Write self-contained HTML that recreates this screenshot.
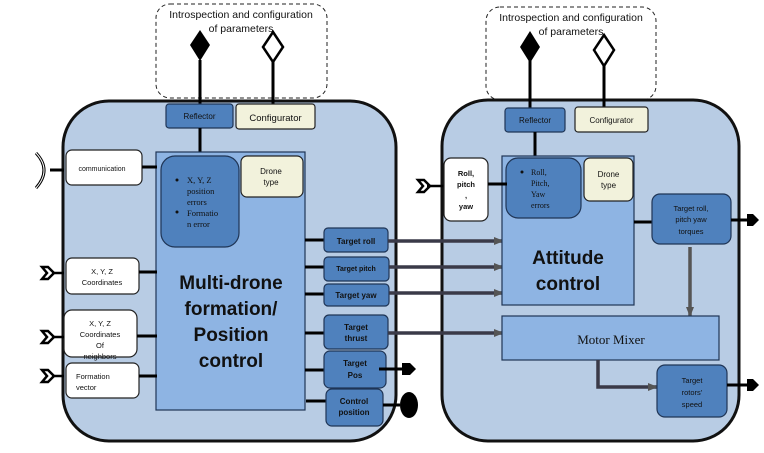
<!DOCTYPE html>
<html><head><meta charset="utf-8"><style>
html,body{margin:0;padding:0;background:#fff;}
svg{display:block;}
text{font-family:"Liberation Sans",sans-serif;fill:#111;}
.serif{font-family:"Liberation Serif",serif;}
</style></head><body>
<svg width="764" height="453" viewBox="0 0 764 453" xmlns="http://www.w3.org/2000/svg">
<defs>
<marker id="ah" markerWidth="10" markerHeight="10" refX="9" refY="5" orient="auto" markerUnits="userSpaceOnUse">
<path d="M0,1 L10,5 L0,9 z" fill="#555"/></marker>
</defs>
<rect x="156" y="4" width="171" height="94" rx="14" fill="none" stroke="#222" stroke-dasharray="4,3"/>
<rect x="486" y="7" width="170" height="93" rx="14" fill="none" stroke="#222" stroke-dasharray="4,3"/>
<text x="241" y="18" font-size="10.5" text-anchor="middle">Introspection and configuration</text>
<text x="241" y="32" font-size="10.5" text-anchor="middle">of parameters</text>
<text x="571" y="21" font-size="10.5" text-anchor="middle">Introspection and configuration</text>
<text x="571" y="35" font-size="10.5" text-anchor="middle">of parameters</text>

<rect x="63" y="101" width="333" height="340" rx="46" fill="#b8cce4" stroke="#111" stroke-width="3"/>
<rect x="442" y="100" width="297" height="341" rx="46" fill="#b8cce4" stroke="#111" stroke-width="3"/>

<line x1="200" y1="60" x2="200" y2="104" stroke="#000" stroke-width="3"/>
<line x1="273" y1="62" x2="273" y2="104" stroke="#000" stroke-width="3"/>
<path d="M200,30 L210,45 L200,61 L190,45 z" fill="#000"/>
<path d="M273,32 L283,47 L273,62 L263,47 z" fill="#fff" stroke="#000" stroke-width="2.5"/>
<line x1="530" y1="60" x2="530" y2="108" stroke="#000" stroke-width="3"/>
<line x1="604" y1="64" x2="604" y2="107" stroke="#000" stroke-width="3"/>
<path d="M530,31 L540,47 L530,63 L520,47 z" fill="#000"/>
<path d="M604,35 L614,50 L604,66 L594,50 z" fill="#fff" stroke="#000" stroke-width="2.5"/>

<rect x="166" y="104" width="67" height="24" rx="3" fill="#4f81bd" stroke="#1f3556" stroke-width="1.2"/>
<text x="199.5" y="119" font-size="8" text-anchor="middle">Reflector</text>
<rect x="236" y="104" width="79" height="25" rx="3" fill="#f2f2dc" stroke="#222" stroke-width="1.2"/>
<text x="275.5" y="121" font-size="9.5" text-anchor="middle">Configurator</text>
<line x1="200" y1="128" x2="200" y2="153" stroke="#000" stroke-width="3"/>

<rect x="156" y="152" width="149" height="258" fill="#8eb4e3" stroke="#1f3556" stroke-width="1.2"/>
<rect x="161" y="156" width="78" height="91" rx="14" fill="#4f81bd" stroke="#1f3556" stroke-width="1.2"/>
<circle cx="177" cy="180" r="1.5" fill="#111"/>
<text x="187" y="183" font-size="8.5" class="serif">X, Y, Z</text>
<text x="187" y="194" font-size="8.5" class="serif">position</text>
<text x="187" y="205" font-size="8.5" class="serif">errors</text>
<circle cx="177" cy="212" r="1.5" fill="#111"/>
<text x="187" y="216" font-size="8.5" class="serif">Formatio</text>
<text x="187" y="227" font-size="8.5" class="serif">n error</text>
<rect x="241" y="156" width="62" height="41" rx="6" fill="#f2f2dc" stroke="#222" stroke-width="1.2"/>
<text x="271" y="174" font-size="8" text-anchor="middle">Drone</text>
<text x="271" y="185" font-size="8" text-anchor="middle">type</text>
<g font-size="19" font-weight="bold" text-anchor="middle">
<text x="231" y="289">Multi-drone</text>
<text x="231" y="315">formation/</text>
<text x="231" y="341">Position</text>
<text x="231" y="367">control</text>
</g>

<rect x="66" y="150" width="76" height="35" rx="6" fill="#fff" stroke="#222" stroke-width="1.2"/>
<text x="102" y="171" font-size="7" text-anchor="middle">communication</text>
<line x1="142" y1="167" x2="157" y2="167" stroke="#000" stroke-width="3"/>
<rect x="66" y="258" width="73" height="36" rx="6" fill="#fff" stroke="#222" stroke-width="1.2"/>
<text x="102" y="274" font-size="7.5" text-anchor="middle">X, Y, Z</text>
<text x="102" y="285" font-size="7.5" text-anchor="middle">Coordinates</text>
<line x1="139" y1="272" x2="157" y2="272" stroke="#000" stroke-width="3"/>
<rect x="64" y="310" width="73" height="47" rx="8" fill="#fff" stroke="#222" stroke-width="1.2"/>
<text x="100" y="326" font-size="7.5" text-anchor="middle">X, Y, Z</text>
<text x="100" y="337" font-size="7.5" text-anchor="middle">Coordinates</text>
<text x="100" y="348" font-size="7.5" text-anchor="middle">Of</text>
<text x="100" y="359" font-size="7.5" text-anchor="middle">neighbors</text>
<line x1="137" y1="336" x2="157" y2="336" stroke="#000" stroke-width="3"/>
<rect x="66" y="363" width="73" height="35" rx="6" fill="#fff" stroke="#222" stroke-width="1.2"/>
<text x="76" y="379" font-size="7.5">Formation</text>
<text x="76" y="390" font-size="7.5">vector</text>
<line x1="139" y1="376" x2="157" y2="376" stroke="#000" stroke-width="3"/>

<line x1="50" y1="170" x2="64" y2="170" stroke="#000" stroke-width="3"/>
<path d="M36,153 Q52,170 36,188" fill="none" stroke="#000" stroke-width="3"/>
<path d="M36,153 Q52,170 36,188" fill="none" stroke="#fff" stroke-width="1"/>
<g fill="none" stroke="#000" stroke-width="2.5">
<line x1="52" y1="273" x2="64" y2="273"/><path d="M42,267 L48,267 L54,273 L48,279 L42,279 L47,273 z"/>
<line x1="52" y1="337" x2="64" y2="337"/><path d="M42,331 L48,331 L54,337 L48,343 L42,343 L47,337 z"/>
<line x1="52" y1="376" x2="64" y2="376"/><path d="M42,370 L48,370 L54,376 L48,382 L42,382 L47,376 z"/>
<line x1="427" y1="186" x2="444" y2="186"/><path d="M418,180 L424,180 L430,186 L424,192 L418,192 L423,186 z"/>
</g>

<g stroke="#000" stroke-width="3">
<line x1="305" y1="240" x2="324" y2="240"/>
<line x1="305" y1="267" x2="324" y2="267"/>
<line x1="305" y1="294" x2="324" y2="294"/>
<line x1="305" y1="333" x2="324" y2="333"/>
<line x1="305" y1="370" x2="324" y2="370"/>
<line x1="306" y1="401" x2="326" y2="401"/>
</g>
<g fill="#4f81bd" stroke="#1f3556" stroke-width="1.2">
<rect x="324" y="228" width="64" height="24" rx="4"/>
<rect x="324" y="257" width="65" height="24" rx="4"/>
<rect x="324" y="284" width="65" height="22" rx="4"/>
<rect x="324" y="315" width="64" height="34" rx="5"/>
<rect x="324" y="351" width="62" height="37" rx="6"/>
<rect x="326" y="389" width="57" height="37" rx="6"/>
</g>
<g font-size="8" font-weight="bold" text-anchor="middle">
<text x="356" y="244">Target roll</text>
<text x="356" y="271" font-size="7">Target pitch</text>
<text x="356" y="298">Target yaw</text>
<text x="356" y="330">Target</text>
<text x="356" y="341">thrust</text>
<text x="355" y="366">Target</text>
<text x="355" y="378">Pos</text>
<text x="354" y="404">Control</text>
<text x="354" y="415">position</text>
</g>
<line x1="379" y1="369" x2="403" y2="369" stroke="#000" stroke-width="3"/>
<path d="M402,363 L410,363 L416,369 L410,375 L402,375 z" fill="#000"/>
<line x1="383" y1="405" x2="400" y2="405" stroke="#000" stroke-width="3"/>
<ellipse cx="409" cy="405" rx="9" ry="13" fill="#000"/>

<g stroke="#3a3a48" stroke-width="3.5" marker-end="url(#ah)">
<line x1="388" y1="241" x2="503" y2="241"/>
<line x1="389" y1="267" x2="503" y2="267"/>
<line x1="389" y1="293" x2="503" y2="293"/>
<line x1="388" y1="333" x2="503" y2="333"/>
</g>

<rect x="505" y="108" width="60" height="24" rx="3" fill="#4f81bd" stroke="#1f3556" stroke-width="1.2"/>
<text x="535" y="123" font-size="8" text-anchor="middle">Reflector</text>
<rect x="575" y="107" width="73" height="25" rx="3" fill="#f2f2dc" stroke="#222" stroke-width="1.2"/>
<text x="611.5" y="123" font-size="8" text-anchor="middle">Configurator</text>
<line x1="535" y1="132" x2="535" y2="157" stroke="#000" stroke-width="3"/>

<rect x="502" y="156" width="132" height="149" fill="#8eb4e3" stroke="#1f3556" stroke-width="1.2"/>
<rect x="506" y="158" width="75" height="60" rx="12" fill="#4f81bd" stroke="#1f3556" stroke-width="1.2"/>
<circle cx="522" cy="172" r="1.5" fill="#111"/>
<text x="531" y="175" font-size="8" class="serif">Roll,</text>
<text x="531" y="186" font-size="8" class="serif">Pitch,</text>
<text x="531" y="197" font-size="8" class="serif">Yaw</text>
<text x="531" y="208" font-size="8" class="serif">errors</text>
<rect x="584" y="158" width="49" height="43" rx="6" fill="#f2f2dc" stroke="#222" stroke-width="1.2"/>
<text x="608.5" y="177" font-size="8" text-anchor="middle">Drone</text>
<text x="608.5" y="188" font-size="8" text-anchor="middle">type</text>
<g font-size="19" font-weight="bold" text-anchor="middle">
<text x="568" y="264">Attitude</text>
<text x="568" y="290">control</text>
</g>
<rect x="444" y="158" width="44" height="63" rx="7" fill="#fff" stroke="#222" stroke-width="1.2"/>
<g font-size="7.5" font-weight="bold" text-anchor="middle">
<text x="466" y="176">Roll,</text>
<text x="466" y="187">pitch</text>
<text x="466" y="198">,</text>
<text x="466" y="209">yaw</text>
</g>
<line x1="488" y1="184" x2="507" y2="184" stroke="#000" stroke-width="3"/>

<line x1="634" y1="222" x2="653" y2="222" stroke="#000" stroke-width="3"/>
<rect x="652" y="194" width="79" height="50" rx="8" fill="#4f81bd" stroke="#1f3556" stroke-width="1.2"/>
<text x="691" y="211" font-size="7.5" text-anchor="middle">Target roll,</text>
<text x="691" y="222" font-size="7.5" text-anchor="middle">pitch yaw</text>
<text x="691" y="234" font-size="7.5" text-anchor="middle">torques</text>
<line x1="731" y1="220" x2="748" y2="220" stroke="#000" stroke-width="3"/>
<path d="M747,214 L753,214 L759,220 L753,226 L747,226 z" fill="#000"/>
<line x1="690" y1="247" x2="690" y2="316" stroke="#555" stroke-width="3.5" marker-end="url(#ah)"/>

<rect x="502" y="316" width="217" height="44" fill="#8eb4e3" stroke="#1f3556" stroke-width="1.2"/>
<text x="611" y="344" font-size="13" text-anchor="middle" class="serif">Motor Mixer</text>
<polyline points="598,360 598,387 657,387" fill="none" stroke="#3a3a48" stroke-width="3.5" marker-end="url(#ah)"/>
<rect x="657" y="365" width="70" height="52" rx="8" fill="#4f81bd" stroke="#1f3556" stroke-width="1.2"/>
<text x="692" y="383" font-size="7.5" text-anchor="middle">Target</text>
<text x="692" y="395" font-size="7.5" text-anchor="middle">rotors’</text>
<text x="692" y="407" font-size="7.5" text-anchor="middle">speed</text>
<line x1="727" y1="385" x2="748" y2="385" stroke="#000" stroke-width="3"/>
<path d="M747,379 L753,379 L759,385 L753,391 L747,391 z" fill="#000"/>
</svg>
</body></html>
